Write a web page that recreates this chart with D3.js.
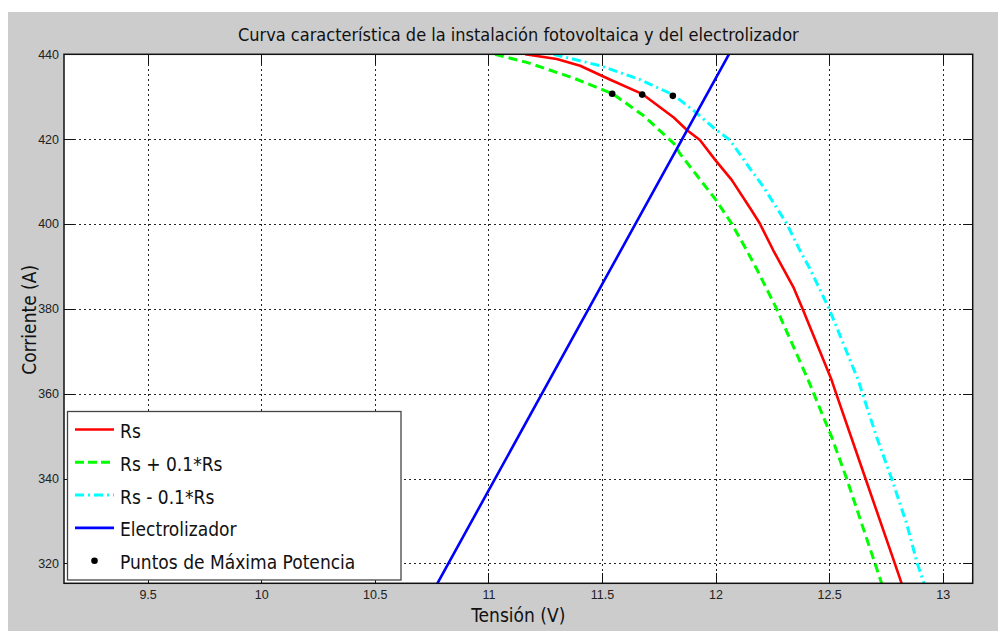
<!DOCTYPE html>
<html>
<head>
<meta charset="utf-8">
<script src="https://cdn.jsdelivr.net/npm/d3@7"></script>
<style>
  html, body { margin: 0; padding: 0; background: #ffffff; }
  svg { display: block; }
</style>
</head>
<body>
<svg id="chart" width="998" height="631"></svg>
<script>
// Tensión (V) / Corriente (A) pairs for each curve
const rsNominal = [
  [11.162, 440.0], [11.301, 438.9], [11.404, 437.3], [11.537, 434.0],
  [11.679, 430.6], [11.816, 425.1], [11.875, 422.1], [11.931, 419.8],
  [12.000, 415.0], [12.071, 410.4], [12.154, 403.6], [12.195, 400.1],
  [12.254, 393.8], [12.298, 389.5], [12.342, 385.2], [12.383, 380.0],
  [12.511, 363.2], [12.531, 360.0], [12.660, 340.0],
  [12.789, 320.0], [12.819, 315.3]
];
const rsPlus10 = [
  [11.029, 440.0], [11.169, 438.1], [11.375, 434.4], [11.547, 430.7],
  [11.684, 425.5], [11.816, 419.0], [11.843, 416.6], [11.997, 406.0],
  [12.071, 400.1], [12.137, 393.8], [12.180, 389.5], [12.269, 380.0],
  [12.408, 363.2], [12.511, 349.8], [12.577, 340.0],
  [12.643, 329.4], [12.702, 320.0], [12.731, 315.3]
];
const rsMinus10 = [
  [11.287, 440.0], [11.493, 437.3], [11.669, 434.0], [11.816, 430.4],
  [11.904, 426.7], [12.000, 422.3], [12.063, 419.8], [12.154, 412.9],
  [12.210, 408.8], [12.313, 400.1], [12.371, 393.8], [12.415, 389.5],
  [12.500, 380.0], [12.628, 363.2], [12.647, 360.0], [12.709, 349.8],
  [12.775, 340.0], [12.841, 329.4], [12.888, 320.0], [12.918, 315.3]
];
const electrolizador = [
  [10.775, 315.2], [11.500, 385.7], [12.059, 440.0]
];
const maxPowerPoints = [
  [11.545, 430.7], [11.677, 430.5], [11.812, 430.2]
];

const xTicks = [9.5, 10, 10.5, 11, 11.5, 12, 12.5, 13];
const yTicks = [320, 340, 360, 380, 400, 420, 440];
const xDomain = [9.132, 13.132];
const yDomain = [315.3, 440];

const titleText = "Curva característica de la instalación fotovoltaica y del electrolizador";
const xLabel = "Tensión (V)";
const yLabel = "Corriente (A)";
const legendLabels = ["Rs", "Rs + 0.1*Rs", "Rs - 0.1*Rs", "Electrolizador", "Puntos de Máxima Potencia"];

// ---- layout ----
const W = 998, H = 631;
const plot = { left: 64, top: 54.3, right: 972.7, bottom: 583.3 };
const uiFont = "'DejaVu Sans Condensed', 'DejaVu Sans', sans-serif";
const tickFont = "'Liberation Sans Narrow', 'Arial Narrow', 'Liberation Sans', sans-serif";

const svg = d3.select("#chart");

// figure background
svg.append("rect").attr("x", 8).attr("y", 12).attr("width", W - 8).attr("height", H - 12)
  .attr("fill", "#cccccc");

const x = d3.scaleLinear().domain(xDomain).range([plot.left, plot.right]);
const y = d3.scaleLinear().domain(yDomain).range([plot.bottom, plot.top]);

// axes background
svg.append("rect")
  .attr("x", plot.left).attr("y", plot.top)
  .attr("width", plot.right - plot.left).attr("height", plot.bottom - plot.top)
  .attr("fill", "#ffffff");

svg.append("clipPath").attr("id", "plotClip").append("rect")
  .attr("x", plot.left).attr("y", plot.top)
  .attr("width", plot.right - plot.left).attr("height", plot.bottom - plot.top);

// dotted grid
const grid = svg.append("g").attr("stroke", "#222").attr("stroke-width", 1)
  .attr("stroke-dasharray", "2,3").attr("shape-rendering", "crispEdges");
grid.selectAll("line.vx").data(xTicks).join("line")
  .attr("x1", d => Math.round(x(d)) + 0.5).attr("x2", d => Math.round(x(d)) + 0.5)
  .attr("y1", plot.top).attr("y2", plot.bottom);
grid.selectAll("line.hy").data(yTicks).join("line")
  .attr("y1", d => Math.round(y(d)) + 0.5).attr("y2", d => Math.round(y(d)) + 0.5)
  .attr("x1", plot.left).attr("x2", plot.right);

// inward tick marks on all four sides
const tickLen = 10;
const ticks = svg.append("g").attr("stroke", "#111").attr("stroke-width", 1).attr("shape-rendering", "crispEdges");
xTicks.forEach(d => {
  const px = Math.round(x(d)) + 0.5;
  ticks.append("line").attr("x1", px).attr("x2", px).attr("y1", plot.bottom).attr("y2", plot.bottom - tickLen);
  ticks.append("line").attr("x1", px).attr("x2", px).attr("y1", plot.top).attr("y2", plot.top + tickLen);
});
yTicks.forEach(d => {
  const py = Math.round(y(d)) + 0.5;
  ticks.append("line").attr("y1", py).attr("y2", py).attr("x1", plot.left).attr("x2", plot.left + tickLen);
  ticks.append("line").attr("y1", py).attr("y2", py).attr("x1", plot.right).attr("x2", plot.right - tickLen);
});

// tick labels through d3 axes (tick lines hidden; drawn above)
const xAxis = d3.axisBottom(x).tickValues(xTicks).tickSize(0).tickPadding(7)
  .tickFormat(d3.format("~g"));
const yAxis = d3.axisLeft(y).tickValues(yTicks).tickSize(0).tickPadding(5)
  .tickFormat(d3.format("d"));
const gx = svg.append("g").attr("transform", `translate(0,${plot.bottom})`).call(xAxis);
const gy = svg.append("g").attr("transform", `translate(${plot.left},0)`).call(yAxis);
[gx, gy].forEach(g => {
  g.select(".domain").remove();
  g.selectAll("text").attr("font-family", tickFont).attr("font-size", 12.5).attr("fill", "#222");
});

// curves
const line = d3.line().x(d => x(d[0])).y(d => y(d[1]));
const series = [
  { data: rsPlus10, color: "#00ff00", width: 3, dash: "9,5" },
  { data: rsMinus10, color: "#00ffff", width: 3, dash: "9,4,2,4" },
  { data: rsNominal, color: "#ff0000", width: 2.6, dash: null },
  { data: electrolizador, color: "#0000ff", width: 2.6, dash: null }
];
const curves = svg.append("g").attr("clip-path", "url(#plotClip)");
series.forEach(s => {
  curves.append("path").datum(s.data)
    .attr("d", line).attr("fill", "none")
    .attr("stroke", s.color).attr("stroke-width", s.width)
    .attr("stroke-dasharray", s.dash)
    .attr("stroke-linejoin", "round");
});
curves.selectAll("circle.mpp").data(maxPowerPoints).join("circle")
  .attr("cx", d => x(d[0])).attr("cy", d => y(d[1])).attr("r", 3.3).attr("fill", "#000");

// axes box
svg.append("rect")
  .attr("x", plot.left).attr("y", plot.top)
  .attr("width", plot.right - plot.left).attr("height", plot.bottom - plot.top)
  .attr("fill", "none").attr("stroke", "#111").attr("stroke-width", 1.5);

// title and axis labels
svg.append("text").attr("x", (plot.left + plot.right) / 2).attr("y", 41)
  .attr("text-anchor", "middle").attr("font-family", uiFont).attr("font-size", 18)
  .attr("fill", "#111").text(titleText);
svg.append("text").attr("x", (plot.left + plot.right) / 2).attr("y", 622)
  .attr("text-anchor", "middle").attr("font-family", uiFont).attr("font-size", 19)
  .attr("fill", "#111").text(xLabel);
svg.append("text").attr("transform", `translate(36,${(plot.top + plot.bottom) / 2 + 1}) rotate(-90)`)
  .attr("text-anchor", "middle").attr("font-family", uiFont).attr("font-size", 19)
  .attr("fill", "#111").text(yLabel);

// legend
const legend = svg.append("g");
legend.append("rect").attr("x", 67.5).attr("y", 411.5).attr("width", 333.5).attr("height", 168.5)
  .attr("fill", "#ffffff").attr("stroke", "#444").attr("stroke-width", 1.3);
const legendItems = [
  { color: "#ff0000", width: 2.6, dash: null, dot: false },
  { color: "#00ff00", width: 3, dash: "9,4", dot: false },
  { color: "#00ffff", width: 3, dash: "9,4,2,4", dot: false },
  { color: "#0000ff", width: 2.6, dash: null, dot: false },
  { color: "#000", width: 0, dash: null, dot: true }
];
legendItems.forEach((it, i) => {
  const ly = 429.5 + i * 32.8;
  if (it.dot) {
    legend.append("circle").attr("cx", 94.5).attr("cy", ly).attr("r", 3.3).attr("fill", "#000");
  } else {
    legend.append("line").attr("x1", 75).attr("x2", 114).attr("y1", ly).attr("y2", ly)
      .attr("stroke", it.color).attr("stroke-width", it.width).attr("stroke-dasharray", it.dash);
  }
  legend.append("text").attr("x", 120).attr("y", ly + 1.5).attr("dominant-baseline", "central")
    .attr("font-family", uiFont).attr("font-size", 19).attr("fill", "#111").text(legendLabels[i]);
});
</script>
</body>
</html>
